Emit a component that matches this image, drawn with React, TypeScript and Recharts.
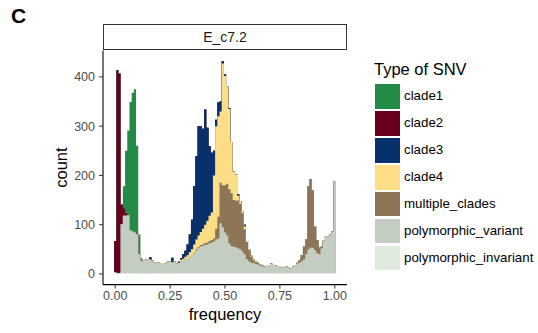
import { ComposedChart, Area, XAxis, YAxis } from 'recharts'

const FONT = '"Liberation Sans", Arial, Helvetica, sans-serif'

// histogram bins of width 0.01, centred on 0.00 … 1.00
const BIN_WIDTH = 0.01
const BIN_COUNT = 101

const xTicks = [0, 0.25, 0.5, 0.75, 1]
const yTicks = [0, 100, 200, 300, 400]

// counts per bin
const clade1 = [
  0, 0, 0, 0, 45, 127, 172, 261, 282, 291,
  180, 40, 5, 0, 0, 0, 0, 0, 0, 0,
  0, 0, 0, 0, 0, 0, 0, 0, 0, 0,
  0, 0, 0, 0, 0, 0, 0, 0, 0, 0,
  0, 0, 0, 0, 0, 0, 0, 0, 0, 0,
  0, 0, 0, 0, 0, 0, 0, 0, 0, 0,
  0, 0, 0, 0, 0, 0, 0, 0, 0, 0,
  0, 0, 0, 0, 0, 0, 0, 0, 0, 0,
  0, 0, 0, 0, 0, 0, 0, 0, 0, 0,
  0, 0, 0, 0, 0, 0, 0, 0, 0, 0,
  0,
]

const clade2 = [
  64, 412, 405, 40, 15, 5, 0, 0, 0, 0,
  0, 0, 0, 0, 0, 0, 0, 0, 0, 0,
  0, 0, 0, 0, 0, 0, 0, 0, 0, 0,
  0, 0, 0, 0, 0, 0, 0, 0, 0, 0,
  0, 0, 0, 0, 0, 0, 0, 0, 0, 0,
  0, 0, 0, 0, 0, 0, 0, 0, 0, 0,
  0, 0, 0, 0, 0, 0, 0, 0, 0, 0,
  0, 0, 0, 0, 0, 0, 0, 0, 0, 0,
  0, 0, 0, 0, 0, 0, 0, 0, 0, 0,
  0, 0, 0, 0, 0, 0, 0, 0, 0, 0,
  0,
]

const clade3 = [
  0, 0, 0, 0, 0, 0, 0, 0, 0, 0,
  0, 0, 0, 0, 0, 0, 5, 0, 0, 0,
  0, 0, 0, 0, 0, 0, 9, 0, 0, 2,
  3, 9, 12, 22, 36, 60, 118, 169, 222, 215,
  203, 234, 189, 141, 121, 50, 13, 28, 20, 5,
  3, 0, 2, 0, 0, 0, 3, 0, 0, 3,
  0, 0, 0, 0, 0, 0, 0, 0, 0, 0,
  0, 0, 0, 0, 0, 0, 0, 0, 0, 0,
  0, 0, 0, 0, 0, 0, 0, 0, 0, 0,
  0, 0, 0, 0, 0, 0, 0, 0, 0, 1,
  0,
]

const clade4 = [
  0, 0, 0, 0, 0, 0, 0, 0, 0, 0,
  0, 0, 2, 1, 0, 0, 0, 1, 0, 0,
  1, 0, 0, 0, 1, 0, 0, 1, 0, 1,
  3, 4, 6, 7, 9, 12, 17, 20, 24, 26,
  32, 37, 44, 51, 56, 128, 208, 204, 145, 247,
  222, 198, 163, 104, 58, 53, 10, 6, 5, 7,
  2, 2, 2, 2, 2, 1, 1, 1, 1, 0,
  0, 1, 0, 0, 1, 0, 0, 1, 0, 0,
  0, 1, 0, 0, 0, 0, 0, 0, 0, 0,
  0, 0, 0, 0, 0, 0, 0, 0, 0, 0,
  0,
]

const multipleClades = [
  0, 0, 0, 0, 0, 0, 0, 0, 0, 0,
  0, 0, 0, 0, 0, 0, 0, 0, 0, 0,
  0, 0, 0, 0, 0, 0, 0, 0, 0, 0,
  0, 0, 0, 0, 0, 0, 1, 2, 2, 3,
  3, 4, 4, 5, 5, 6, 22, 44, 82, 85,
  96, 105, 110, 108, 95, 95, 97, 92, 78, 50,
  35, 22, 12, 6, 4, 3, 2, 1, 0, 0,
  0, 0, 0, 0, 0, 0, 0, 0, 0, 0,
  0, 0, 0, 2, 5, 12, 25, 30, 128, 140,
  117, 48, 27, 13, 3, 0, 0, 0, 0, 0,
  0,
]

const polymorphicVariant = [
  0, 0, 0, 98, 116, 116, 116, 86, 84, 82,
  78, 38, 23, 26, 27, 28, 28, 24, 22, 21,
  20, 21, 20, 19, 22, 24, 22, 23, 19, 20,
  24, 25, 27, 29, 33, 36, 40, 46, 50, 54,
  55, 57, 58, 60, 62, 64, 68, 70, 101, 93,
  82, 76, 60, 54, 53, 52, 50, 48, 43, 38,
  28, 24, 21, 20, 18, 17, 15, 13, 12, 14,
  16, 18, 17, 15, 13, 14, 12, 11, 13, 11,
  9, 12, 16, 19, 21, 24, 28, 38, 48, 51,
  51, 46, 40, 38, 50, 66, 74, 74, 78, 84,
  186,
]

const polymorphicInvariant = [
  3, 2, 2, 3, 2, 2, 3, 2, 2, 2,
  2, 2, 2, 1, 2, 2, 1, 2, 2, 2,
  2, 1, 2, 2, 2, 1, 2, 2, 2, 2,
  2, 2, 2, 2, 2, 2, 2, 2, 2, 2,
  2, 2, 2, 2, 2, 2, 2, 2, 2, 2,
  2, 2, 2, 2, 2, 2, 2, 2, 2, 2,
  2, 2, 2, 2, 2, 2, 2, 2, 2, 2,
  2, 2, 1, 2, 2, 2, 1, 2, 2, 2,
  2, 2, 2, 2, 2, 2, 2, 2, 2, 2,
  2, 2, 2, 2, 2, 2, 2, 2, 2, 2,
  2,
]

// legend order (ggplot puts the first level on top of the stack)
const SERIES = [
  { key: 'clade1', values: clade1, color: '#238B45' },
  { key: 'clade2', values: clade2, color: '#67001F' },
  { key: 'clade3', values: clade3, color: '#08306B' },
  { key: 'clade4', values: clade4, color: '#FEDD87' },
  { key: 'multiple_clades', values: multipleClades, color: '#8C7657' },
  { key: 'polymorphic_variant', values: polymorphicVariant, color: '#C4CDC2' },
  { key: 'polymorphic_invariant', values: polymorphicInvariant, color: '#DEEBDC' },
]

// Each series is drawn as the running total from the bottom of the stack up
// to its own top, biggest first, so layers overlap instead of sharing edges
// (no hairline seams). One row per left bin edge for a stepAfter outline;
// the extra last row is the right edge of the final bin.
const chartData = Array.from({ length: BIN_COUNT + 1 }, (_, i) => {
  const bin = Math.min(i, BIN_COUNT - 1)
  const row: Record<string, number> = { edge: (i - 0.5) * BIN_WIDTH }
  let total = 0
  for (let k = SERIES.length - 1; k >= 0; k--) {
    total += SERIES[k].values[bin]
    row[SERIES[k].key] = total
  }
  return row
})

function CountLabel({ viewBox }: any) {
  const cx = 67
  const cy = viewBox.y + viewBox.height / 2
  return (
    <text
      x={cx}
      y={cy}
      transform={`rotate(-90, ${cx}, ${cy})`}
      textAnchor="middle"
      fontSize={16.5}
      fontFamily={FONT}
      fill="#000"
    >
      count
    </text>
  )
}

function FrequencyLabel({ viewBox }: any) {
  return (
    <text
      x={viewBox.x + viewBox.width / 2}
      y={320}
      textAnchor="middle"
      fontSize={16.5}
      fontFamily={FONT}
      fill="#000"
    >
      frequency
    </text>
  )
}

export default function App() {
  return (
    <div
      style={{
        position: 'absolute',
        left: 0,
        top: 0,
        width: 538,
        height: 333,
        background: '#fff',
        fontFamily: FONT,
      }}
    >
      <div
        style={{
          position: 'absolute',
          left: 11,
          top: 4,
          fontSize: 21,
          fontWeight: 'bold',
          color: '#000',
        }}
      >
        C
      </div>

      <ComposedChart
        width={538}
        height={333}
        data={chartData}
        margin={{ top: 50.5, right: 191, bottom: 18.4, left: 60 }}
      >
        <XAxis
          dataKey="edge"
          type="number"
          domain={[-0.0555, 1.0555]}
          allowDataOverflow
          ticks={xTicks}
          tickFormatter={(v: number) => v.toFixed(2)}
          height={30}
          tickSize={4}
          tickMargin={3}
          tick={{ fill: '#4D4D4D', fontSize: 12.5, fontFamily: FONT }}
          tickLine={{ stroke: '#333' }}
          axisLine={{ stroke: '#000', strokeWidth: 1.1 }}
          label={<FrequencyLabel />}
        />
        <YAxis
          type="number"
          domain={[-21.6, 453.6]}
          allowDataOverflow
          ticks={yTicks}
          width={43}
          tickSize={4}
          tickMargin={4}
          tick={{ fill: '#4D4D4D', fontSize: 12.5, fontFamily: FONT }}
          tickLine={{ stroke: '#333' }}
          axisLine={{ stroke: '#000', strokeWidth: 1.1 }}
          label={<CountLabel />}
        />
        {SERIES.map((s) => (
          <Area
            key={s.key}
            dataKey={s.key}
            type="stepAfter"
            baseValue={0}
            fill={s.color}
            fillOpacity={1}
            stroke="none"
            dot={false}
            activeDot={false}
            isAnimationActive={false}
          />
        ))}
      </ComposedChart>

      {/* facet strip */}
      <div
        style={{
          position: 'absolute',
          left: 103,
          top: 24,
          width: 244,
          height: 26,
          boxSizing: 'border-box',
          border: '1.2px solid #333',
          background: '#fff',
          display: 'flex',
          alignItems: 'center',
          justifyContent: 'center',
          fontSize: 14,
          color: '#1A1A1A',
        }}
      >
        E_c7.2
      </div>

      {/* legend */}
      <div
        style={{
          position: 'absolute',
          left: 374,
          top: 60,
          fontSize: 16.5,
          color: '#000',
          whiteSpace: 'nowrap',
        }}
      >
        Type of SNV
      </div>
      {SERIES.map((s, k) => (
        <div key={s.key}>
          <div
            style={{
              position: 'absolute',
              left: 375,
              top: 84.3 + k * 26.9,
              width: 24.5,
              height: 24.5,
              background: s.color,
            }}
          />
          <div
            style={{
              position: 'absolute',
              left: 404,
              top: 84.3 + k * 26.9,
              height: 24.5,
              lineHeight: '24.5px',
              fontSize: 13.3,
              color: '#000',
              whiteSpace: 'nowrap',
            }}
          >
            {s.key}
          </div>
        </div>
      ))}
    </div>
  )
}
